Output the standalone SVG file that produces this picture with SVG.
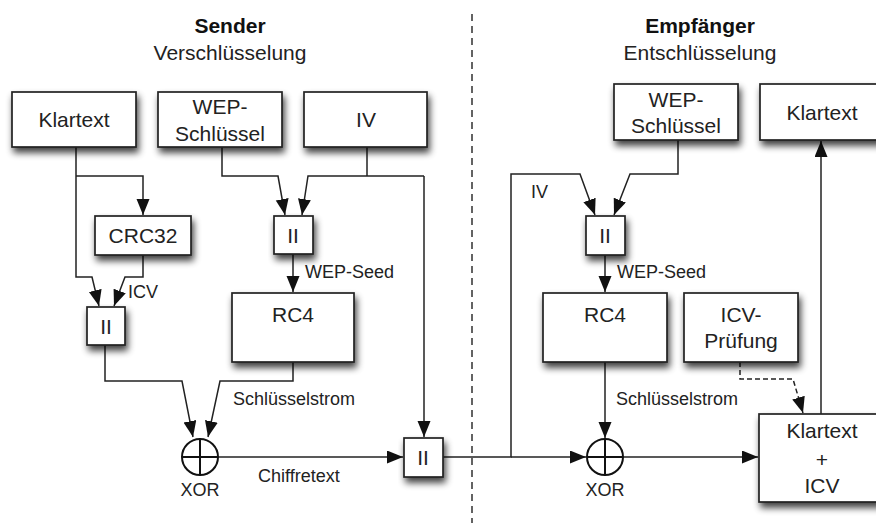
<svg xmlns="http://www.w3.org/2000/svg" width="876" height="523" viewBox="0 0 876 523">
<defs>
<filter id="sh" x="-20%" y="-20%" width="150%" height="170%" color-interpolation-filters="sRGB">
<feGaussianBlur in="SourceAlpha" stdDeviation="3.5"/>
<feOffset dx="2" dy="5" result="b"/>
<feComponentTransfer in="b" result="s"><feFuncA type="linear" slope="0.75"/></feComponentTransfer>
<feMerge><feMergeNode in="s"/><feMergeNode in="SourceGraphic"/></feMerge>
</filter>
<marker id="ah" markerUnits="userSpaceOnUse" markerWidth="18" markerHeight="14" refX="16" refY="6.5" orient="auto">
<path d="M0,0 L16,6.5 L0,13 z" fill="#111"/>
</marker>
</defs>
<style>
.box{fill:#fff;stroke:#222;stroke-width:1.7}
.t{font-family:"Liberation Sans",Arial,sans-serif;font-size:21px;fill:#222;text-anchor:middle}
.h{font-family:"Liberation Sans",Arial,sans-serif;font-size:21px;fill:#111;text-anchor:middle;font-weight:bold}
.l{font-family:"Liberation Sans",Arial,sans-serif;font-size:18px;fill:#222}
.c{fill:none;stroke:#222;stroke-width:1.5}
.a{marker-end:url(#ah)}
.x{fill:#fff;stroke:#111;stroke-width:2}
</style>
<rect width="876" height="523" fill="#fff"/>

<g id="titles">
<text class="h" x="230" y="33">Sender</text>
<text class="t" x="230" y="60">Verschlüsselung</text>
<text class="h" x="700" y="33">Empfänger</text>
<text class="t" x="700" y="60">Entschlüsselung</text>
</g>

<line id="divider" x1="472" y1="14" x2="472" y2="523" stroke="#222" stroke-width="1.4" stroke-dasharray="7,5"/>

<g id="connectors">
<polyline class="c a" points="76,147 76,277 92,277 99,306"/>
<polyline class="c a" points="76,176 143,176 143,215"/>
<polyline class="c a" points="143,255 143,277 125,277 114,306"/>
<polyline class="c a" points="222,147 222,176 278,176 285,215"/>
<polyline class="c" points="367,147 367,176"/>
<polyline class="c a" points="424,176 308,176 302,215"/>
<polyline class="c a" points="424,176 424,437"/>
<line class="c a" x1="293" y1="254" x2="293" y2="292"/>
<polyline class="c a" points="105,345 105,381 182,381 193,437"/>
<polyline class="c a" points="293,362 293,381 220,381 208,437"/>
<line class="c a" x1="218" y1="457" x2="403" y2="457"/>
<polyline class="c a" points="443,457 511,457 511,174 580,174 595,215"/>
<line class="c a" x1="511" y1="457" x2="586" y2="457"/>
<polyline class="c a" points="678,140 678,174 630,174 614,215"/>
<line class="c a" x1="605" y1="255" x2="605" y2="292"/>
<line class="c a" x1="605" y1="362" x2="605" y2="438"/>
<line class="c a" x1="623" y1="457" x2="758" y2="457"/>
<polyline class="c a" points="740,362 740,379 793,379 803,413" stroke-dasharray="5,3"/>
<line class="c a" x1="821" y1="414" x2="821" y2="141"/>
</g>

<g id="labels">
<text class="l" x="305" y="278">WEP-Seed</text>
<text class="l" x="128" y="298">ICV</text>
<text class="l" x="233" y="405">Schlüsselstrom</text>
<text class="l" x="258" y="482">Chiffretext</text>
<text class="l" x="200" y="496" text-anchor="middle">XOR</text>
<text class="l" x="617" y="278">WEP-Seed</text>
<text class="l" x="531" y="198">IV</text>
<text class="l" x="616" y="405">Schlüsselstrom</text>
<text class="l" x="605" y="496" text-anchor="middle">XOR</text>
</g>

<g id="s-klartext"><rect class="box" filter="url(#sh)" x="12" y="92" width="124" height="55"/><text class="t" x="74" y="127">Klartext</text></g>
<g id="s-wep"><rect class="box" filter="url(#sh)" x="158" y="92" width="124" height="55"/><text class="t" x="220" y="114">WEP-</text><text class="t" x="220" y="141">Schlüssel</text></g>
<g id="s-iv"><rect class="box" filter="url(#sh)" x="304" y="92" width="123" height="55"/><text class="t" x="366" y="127">IV</text></g>
<g id="s-crc"><rect class="box" filter="url(#sh)" x="95" y="216" width="96" height="39"/><text class="t" x="143" y="243">CRC32</text></g>
<g id="s-cat1"><rect class="box" filter="url(#sh)" x="87" y="307" width="38" height="38"/><text class="t" x="106" y="334">II</text></g>
<g id="s-cat2"><rect class="box" filter="url(#sh)" x="274" y="216" width="39" height="38"/><text class="t" x="293" y="243">II</text></g>
<g id="s-rc4"><rect class="box" filter="url(#sh)" x="232" y="293" width="122" height="69"/><text class="t" x="293" y="322">RC4</text></g>
<g id="s-xor"><circle class="x" cx="200" cy="457" r="18"/><path d="M182,457 H218 M200,439 V475" stroke="#111" stroke-width="2"/></g>
<g id="s-cat3"><rect class="box" filter="url(#sh)" x="404" y="438" width="39" height="39"/><text class="t" x="423" y="465">II</text></g>

<g id="r-wep"><rect class="box" filter="url(#sh)" x="614" y="84" width="124" height="56"/><text class="t" x="676" y="107">WEP-</text><text class="t" x="676" y="133">Schlüssel</text></g>
<g id="r-klartext"><rect class="box" filter="url(#sh)" x="760" y="84" width="125" height="56"/><text class="t" x="822" y="120">Klartext</text></g>
<g id="r-cat"><rect class="box" filter="url(#sh)" x="586" y="216" width="39" height="39"/><text class="t" x="605" y="243">II</text></g>
<g id="r-rc4"><rect class="box" filter="url(#sh)" x="543" y="293" width="124" height="69"/><text class="t" x="605" y="322">RC4</text></g>
<g id="r-icv"><rect class="box" filter="url(#sh)" x="684" y="293" width="114" height="69"/><text class="t" x="741" y="322">ICV-</text><text class="t" x="741" y="348">Prüfung</text></g>
<g id="r-xor"><circle class="x" cx="605" cy="457" r="18"/><path d="M587,457 H623 M605,439 V475" stroke="#111" stroke-width="2"/></g>
<g id="r-klicv"><rect class="box" filter="url(#sh)" x="759" y="414" width="126" height="88"/><text class="t" x="822" y="438">Klartext</text><text class="t" x="822" y="467">+</text><text class="t" x="822" y="493">ICV</text></g>
</svg>
